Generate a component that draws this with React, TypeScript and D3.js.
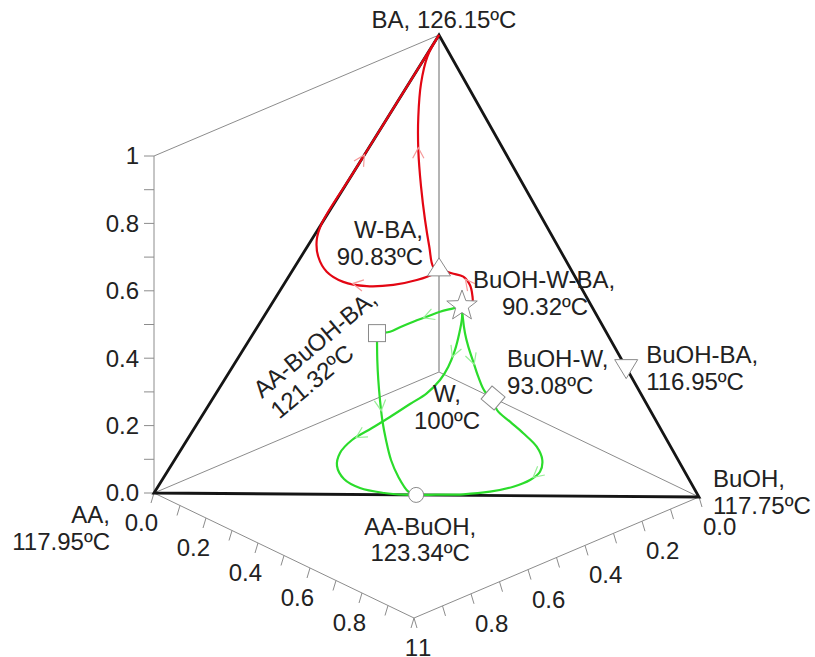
import React from 'react';
import * as d3 from 'd3';

// compositions are [x_AA, x_BuOH, x_BA]; water is the rest
type Comp = [number, number, number];
type Pt = [number, number];

// singular points: pure components and azeotropes
const nodeNames = ['AA', 'BuOH', 'BA', 'W', 'W-BA', 'BuOH-W-BA', 'AA-BuOH-BA', 'BuOH-W', 'BuOH-BA', 'AA-BuOH'];
const nodeTemps = ['117.95', '117.75', '126.15', '100', '90.83', '90.32', '121.32', '93.08', '116.95', '123.34'];
const nodeComps: Comp[] = [
  [1, 0, 0], [0, 1, 0], [0, 0, 1], [0, 0, 0],
  [0, 0, 0.306], [0, 0.0885, 0.2287], [0.4233, 0.2255, 0.351],
  [0, 0.208, 0], [0, 0.72, 0.28], [0.519, 0.481, 0],
];
const nodeMarkers = ['', '', '', '', 'triangle', 'star', 'square', 'diamond', 'triangleDown', 'circle'];

// residue curves, ordered by rising boiling point
const redLoop: Comp[] = [
  [0, 0, 0.306], [0.02, 0, 0.298], [0.078, 0, 0.301], [0.16, 0, 0.316], [0.254, 0, 0.346],
  [0.336, 0, 0.388], [0.394, 0, 0.439], [0.4235, 0, 0.494], [0.429, 0, 0.5457], [0.4116, 0, 0.5884],
  [0.3, 0, 0.7], [0.2, 0, 0.8], [0.1, 0, 0.9], [0, 0, 1],
];
const redInner: Comp[] = [
  [0, 0, 0.306], [0.02, 0, 0.3196], [0.034, 0, 0.384], [0.049, 0, 0.4686], [0.063, 0, 0.5724],
  [0.0726, 0, 0.685], [0.0726, 0, 0.7837], [0.063, 0, 0.879], [0.041, 0, 0.95], [0, 0, 1],
];
const redShort: Comp[] = [
  [0, 0.0885, 0.2287], [0, 0.128, 0.256], [0, 0.128, 0.276], [0, 0.119, 0.302],
  [0, 0.0935, 0.3175], [0, 0.0488, 0.311], [0, 0, 0.306],
];
const greenToSquare: Comp[] = [
  [0, 0.0885, 0.2287], [0.0416, 0.1006, 0.2412], [0.1045, 0.1184, 0.2604], [0.1737, 0.1431, 0.2795],
  [0.2432, 0.1678, 0.2988], [0.3145, 0.1948, 0.3179], [0.3692, 0.2162, 0.3323], [0.4233, 0.2255, 0.351],
];
const greenSquareToCircle: Comp[] = [
  [0.4233, 0.2255, 0.351], [0.4507, 0.2567, 0.2926], [0.4696, 0.2813, 0.2491], [0.4872, 0.3071, 0.2057],
  [0.5037, 0.334, 0.1623], [0.5176, 0.3635, 0.1189], [0.5291, 0.3954, 0.0755], [0.533, 0.4277, 0.0393],
  [0.53, 0.463, 0.007], [0.519, 0.481, 0],
];
const greenLeftLoop: Comp[] = [
  [0, 0.0885, 0.2287], [0, 0.0885, 0.193], [0.0777, 0.1632, 0.2033], [0.1171, 0.1899, 0.1779],
  [0.1613, 0.2126, 0.1525], [0.195, 0.2176, 0.1271], [0.2384, 0.214, 0.1017], [0.2777, 0.1928, 0.0762],
  [0.332, 0.1754, 0.0508], [0.375, 0.1534, 0.0254], [0.4257, 0.132, 0], [0.4984, 0.1656, 0],
  [0.5544, 0.2154, 0], [0.5917, 0.2832, 0], [0.5968, 0.3503, 0], [0.571, 0.415, 0],
  [0.539, 0.46, 0], [0.519, 0.481, 0],
];
const greenToDiamond: Comp[] = [
  [0, 0.0885, 0.2287], [0, 0.0912, 0.198], [0, 0.1, 0.152], [0, 0.1127, 0.117],
  [0, 0.1296, 0.0837], [0, 0.151, 0.042], [0, 0.177, 0.0071], [0, 0.208, 0],
];
const greenRightLoop: Comp[] = [
  [0, 0.208, 0], [0.0392, 0.266, 0], [0.0603, 0.3392, 0], [0.0805, 0.4125, 0], [0.1075, 0.4936, 0],
  [0.1486, 0.5602, 0], [0.1982, 0.6057, 0], [0.249, 0.623, 0], [0.3061, 0.6213, 0],
  [0.3689, 0.6005, 0], [0.4287, 0.5634, 0], [0.482, 0.515, 0], [0.519, 0.481, 0],
];

// where the direction arrows sit (fraction of curve length)
const redLoopArrows = [0.23, 0.64];
const redInnerArrows = [0.52];
const redShortArrows = [0.55];
const greenToSquareArrows = [0.45];
const greenSquareToCircleArrows = [0.45];
const greenLeftLoopArrows = [0.17, 0.59];
const greenToDiamondArrows = [0.6];
const greenRightLoopArrows = [0.46];

// axis ticks
const axisTicks = [0, 0.1, 0.2, 0.3, 0.4, 0.5, 0.6, 0.7, 0.8, 0.9, 1];
const axisLabelValues = [0, 0.2, 0.4, 0.6, 0.8, 1];
const axisLabels = ['0.0', '0.2', '0.4', '0.6', '0.8', '1'];

const RED = '#e30613';
const GREEN = '#2bdc2b';
const FONT = "'Liberation Sans', Arial, Helvetica, sans-serif";
const FS = 24;

// 3D projection: water corner at origin, one linear scale per component
const origin: Pt = [439, 372];
const xA = d3.scaleLinear().domain([0, 1]).range([0, -285]);
const yA = d3.scaleLinear().domain([0, 1]).range([0, 121]);
const xB = d3.scaleLinear().domain([0, 1]).range([0, 260]);
const yB = d3.scaleLinear().domain([0, 1]).range([0, 125]);
const yC = d3.scaleLinear().domain([0, 1]).range([0, -337]);

const project = (c: Comp): Pt => [
  origin[0] + xA(c[0]) + xB(c[1]),
  origin[1] + yA(c[0]) + yB(c[1]) + yC(c[2]),
];

const lineGen = d3.line<Pt>().curve(d3.curveCatmullRom.alpha(0.5));

function arrowPath(pts: Pt[], frac: number) {
  const segs = d3.pairs(pts).map(([p, q]) => Math.hypot(q[0] - p[0], q[1] - p[1]));
  let target = frac * d3.sum(segs);
  for (let i = 0; i < segs.length; i++) {
    if (target <= segs[i] || i === segs.length - 1) {
      const p = pts[i], q = pts[i + 1];
      const t = Math.min(1, target / segs[i]);
      const x = p[0] + (q[0] - p[0]) * t;
      const y = p[1] + (q[1] - p[1]) * t;
      const ux = (q[0] - p[0]) / segs[i], uy = (q[1] - p[1]) / segs[i];
      const L = 12, th = (28 * Math.PI) / 180;
      const leg = (s: number) => {
        const bx = -ux, by = -uy;
        return [x + L * (bx * Math.cos(s * th) - by * Math.sin(s * th)), y + L * (bx * Math.sin(s * th) + by * Math.cos(s * th))];
      };
      const a = leg(1), b = leg(-1);
      return `M${a[0]},${a[1]}L${x},${y}L${b[0]},${b[1]}`;
    }
    target -= segs[i];
  }
  return '';
}

// label placement relative to the projected point
const labelLayout: Record<string, { anchor: string; dx: number; dy: number; gap?: number; dx2?: number; rotate?: number; oneLine?: boolean }> = {
  AA: { anchor: 'end', dx: -44, dy: 30 },
  BuOH: { anchor: 'start', dx: 14, dy: -10 },
  BA: { anchor: 'middle', dx: 5, dy: -7, oneLine: true },
  W: { anchor: 'middle', dx: 8, dy: 30 },
  'W-BA': { anchor: 'end', dx: -16, dy: -31 },
  'BuOH-W-BA': { anchor: 'start', dx: 11, dy: -18, dx2: 29 },
  'AA-BuOH-BA': { anchor: 'start', dx: -115, dy: 66, rotate: -40 },
  'BuOH-W': { anchor: 'start', dx: 14, dy: -31 },
  'BuOH-BA': { anchor: 'start', dx: 20, dy: -5 },
  'AA-BuOH': { anchor: 'middle', dx: 4, dy: 40, gap: 26 },
};

function Marker({ kind, p }: { kind: string; p: Pt }) {
  const style = { fill: '#fff', stroke: '#8a8a8a', strokeWidth: 1 };
  const [x, y] = p;
  if (kind === 'circle') return <circle cx={x} cy={y} r={7.5} {...style} />;
  if (kind === 'square') return <rect x={x - 8.5} y={y - 8.5} width={17} height={17} {...style} />;
  if (kind === 'diamond') return <rect x={-8.5} y={-8.5} width={17} height={17} transform={`translate(${x},${y}) rotate(40)`} {...style} />;
  if (kind === 'triangle') return <path d={`M${x},${y - 11}L${x + 11.5},${y + 7}L${x - 11.5},${y + 7}Z`} {...style} />;
  if (kind === 'triangleDown') return <path d={`M${x},${y + 11}L${x + 11.5},${y - 8}L${x - 11.5},${y - 8}Z`} {...style} />;
  if (kind === 'star') {
    const pts = d3.range(10).map(i => {
      const r = i % 2 === 0 ? 16 : 6.6;
      const ang = -Math.PI / 2 + (i * Math.PI) / 5;
      return [x + r * Math.cos(ang), y + r * Math.sin(ang)];
    });
    return <path d={'M' + pts.map(q => q.join(',')).join('L') + 'Z'} {...style} />;
  }
  return null;
}

export default function App() {
  const P = (c: Comp) => project(c);
  const [AA, BuOH, BA, W] = nodeComps.slice(0, 4).map(P);

  const curves = [
    { pts: redLoop, color: RED, arrows: redLoopArrows, arrowColor: '#f59a9a' },
    { pts: redInner, color: RED, arrows: redInnerArrows, arrowColor: '#f59a9a' },
    { pts: redShort, color: RED, arrows: redShortArrows, arrowColor: '#f59a9a' },
    { pts: greenToSquare, color: GREEN, arrows: greenToSquareArrows, arrowColor: '#98ee98' },
    { pts: greenSquareToCircle, color: GREEN, arrows: greenSquareToCircleArrows, arrowColor: '#98ee98' },
    { pts: greenLeftLoop, color: GREEN, arrows: greenLeftLoopArrows, arrowColor: '#98ee98' },
    { pts: greenToDiamond, color: GREEN, arrows: greenToDiamondArrows, arrowColor: '#98ee98' },
    { pts: greenRightLoop, color: GREEN, arrows: greenRightLoopArrows, arrowColor: '#98ee98' },
  ];

  const grey = { stroke: '#8c8c8c', strokeWidth: 1, fill: 'none' };
  const zTop = P([1, 0, 1]);
  const front = P([1, 1, 0]);

  return (
    <svg width={815} height={657} style={{ position: 'absolute', left: 0, top: 0, background: '#fff' }} fontFamily={FONT}>
      {/* box / axes */}
      <line x1={AA[0]} y1={AA[1]} x2={zTop[0]} y2={zTop[1]} {...grey} />
      <line x1={zTop[0]} y1={zTop[1]} x2={BA[0]} y2={BA[1]} {...grey} />
      <line x1={AA[0]} y1={AA[1]} x2={front[0]} y2={front[1]} {...grey} />
      <line x1={BuOH[0]} y1={BuOH[1]} x2={front[0]} y2={front[1]} {...grey} />
      <line x1={W[0]} y1={W[1]} x2={AA[0]} y2={AA[1]} {...grey} />
      <line x1={W[0]} y1={W[1]} x2={BuOH[0]} y2={BuOH[1]} {...grey} />
      <line x1={W[0]} y1={W[1]} x2={BA[0]} y2={BA[1]} stroke="#b4b4b4" strokeWidth={2} />

      {axisTicks.map(t => {
        const v = P([1, 0, t]);
        const l = P([1, t, 0]);
        const r = P([t, 1, 0]);
        return (
          <g key={'t' + t} {...grey}>
            <line x1={v[0]} y1={v[1]} x2={v[0] - 10} y2={v[1]} />
            <line x1={l[0]} y1={l[1]} x2={l[0] - 3} y2={l[1] + 10} />
            <line x1={r[0]} y1={r[1]} x2={r[0] + 3} y2={r[1] + 10} />
          </g>
        );
      })}
      {axisLabelValues.map((t, i) => {
        const v = P([1, 0, t]);
        const l = P([1, t, 0]);
        const r = P([t, 1, 0]);
        return (
          <g key={'l' + t} fontSize={FS} fill="#222">
            <text x={v[0] - 15} y={v[1]} dy="0.35em" textAnchor="end">{axisLabels[i]}</text>
            <text x={l[0] + 4} y={l[1] + 38} textAnchor="end">{axisLabels[i]}</text>
            <text x={r[0] + 4} y={r[1] + 38} textAnchor="start">{axisLabels[i]}</text>
          </g>
        );
      })}

      {/* tetrahedron front edges */}
      <path d={`M${AA[0]},${AA[1]}L${BA[0]},${BA[1]}L${BuOH[0]},${BuOH[1]}Z`} fill="none" stroke="#151515" strokeWidth={2.8} strokeLinejoin="miter" />

      {/* residue curves */}
      {curves.map((c, i) => {
        const pts = c.pts.map(P);
        return (
          <g key={'c' + i}>
            <path d={lineGen(pts) || ''} fill="none" stroke={c.color} strokeWidth={2.2} />
            {c.arrows.map(f => (
              <path key={f} d={arrowPath(pts, f)} fill="none" stroke={c.arrowColor} strokeWidth={1.2} />
            ))}
          </g>
        );
      })}

      {/* azeotrope markers */}
      {nodeComps.map((c, i) => nodeMarkers[i] ? <Marker key={'m' + i} kind={nodeMarkers[i]} p={P(c)} /> : null)}

      {/* labels */}
      {nodeNames.map((name, i) => {
        const lay = labelLayout[name];
        const p = P(nodeComps[i]);
        const x = p[0] + lay.dx, y = p[1] + lay.dy;
        const gap = lay.gap ?? 27;
        if (lay.oneLine) {
          return <text key={name} x={x} y={y} fontSize={FS} fill="#222" textAnchor={lay.anchor}>{`${name}, ${nodeTemps[i]}ºC`}</text>;
        }
        const tr = lay.rotate ? `translate(${x},${y}) rotate(${lay.rotate})` : `translate(${x},${y})`;
        return (
          <g key={name} transform={tr} fontSize={FS} fill="#222" textAnchor={lay.anchor}>
            <text x={0} y={0}>{`${name},`}</text>
            <text x={lay.dx2 ?? 0} y={gap}>{`${nodeTemps[i]}ºC`}</text>
          </g>
        );
      })}
    </svg>
  );
}
